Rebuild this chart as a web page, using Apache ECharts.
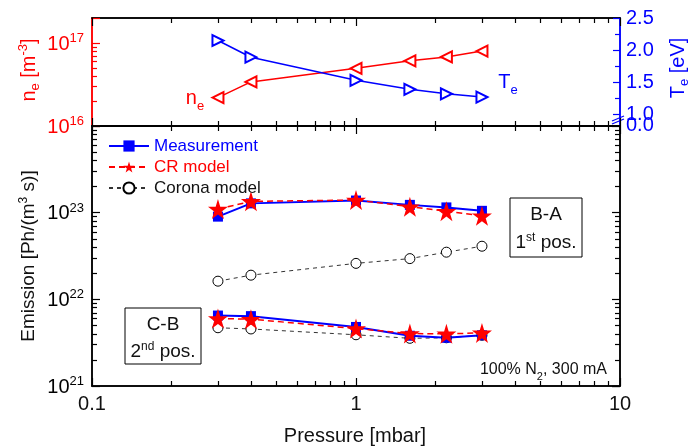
<!doctype html>
<html lang="en" style="height: 100%">
<head>
  <meta charset="utf-8" />
  <script type="text/javascript" src="https://fastly.jsdelivr.net/npm/echarts@6/dist/echarts.min.js"></script>
</head>
<body style="height: 100%; margin: 0; background: #fff">
  <div id="main" style="width: 691px; height: 448px"></div>
  <script type="text/javascript">
    // pressure in mbar
    var pressure = [0.3, 0.4, 1.0, 1.6, 2.2, 3.0];
    // top panel: electron density and temperature
    var neVals = [2.2e16, 3.4e16, 4.95e16, 6.1e16, 6.8e16, 8.0e16];
    var teVals = [2.15, 1.89, 1.53, 1.39, 1.32, 1.27];
    // bottom panel: emission, B-A band (1st pos.)
    var measBA = [9.0e22, 1.28e23, 1.38e23, 1.23e23, 1.15e23, 1.05e23];
    var crBA = [1.1e23, 1.35e23, 1.4e23, 1.17e23, 1.04e23, 9.2e22];
    var coronaBA = [1.62e22, 1.9e22, 2.6e22, 2.95e22, 3.5e22, 4.1e22];
    // bottom panel: emission, C-B band (2nd pos.)
    var measCB = [6.5e21, 6.4e21, 4.8e21, 3.8e21, 3.6e21, 3.85e21];
    var crCB = [6.0e21, 5.9e21, 4.6e21, 4.03e21, 4.0e21, 4.1e21];
    var coronaCB = [4.7e21, 4.55e21, 3.9e21, 3.55e21, 3.6e21, 3.85e21];
    // tick labels
    var xTickLabels = ['0.1', '1', '10'];
    var teTicks = [1.0, 1.5, 2.0, 2.5];
    var teMinorTicks = [1.25, 1.75, 2.25];

    var RED = '#ff0000', BLUE = '#0000ff', INK = '#111';
    var FONT = 'Liberation Sans';
    var STAR = 'path://M50,0 L61,35 L98,35 L68,57 L79,91 L50,70 L21,91 L32,57 L2,35 L39,35 Z';

    function zip(xs, ys) {
      return xs.map(function (x, i) { return [x, ys[i]]; });
    }
    // minor tick positions (in decades) for the overlay axes
    function minorDecades(from, to) {
      var out = [];
      for (var n = from; n < to; n++) {
        for (var k = 2; k <= 9; k++) out.push(n + Math.log10(k));
      }
      return out;
    }
    var supRich = {
      s: { fontSize: 13, fontFamily: FONT, padding: [0, 0, 9, 0], verticalAlign: 'bottom' },
      b: { fontSize: 20, fontFamily: FONT, verticalAlign: 'bottom' }
    };

    function logX(g, pos, lab) {
      return {
        type: 'log', logBase: 10, gridIndex: g, position: pos, min: 0.1, max: 10,
        axisLine: { show: true, onZero: false, lineStyle: { color: '#000', width: 1.5 } },
        axisTick: { show: true, inside: true, length: 8, lineStyle: { color: '#000', width: 1.2 } },
        axisLabel: {
          show: lab, margin: 8, fontSize: 20, color: INK, fontFamily: FONT,
          formatter: function (v) { return xTickLabels[Math.round(Math.log10(v)) + 1]; }
        },
        splitLine: { show: false }
      };
    }
    // overlay axis that only carries the short minor ticks (lives in its own grid)
    function minorAxis(g, pos, min, max, ticks, color) {
      return {
        type: 'value', gridIndex: g, position: pos, min: min, max: max,
        axisLine: { show: true, onZero: false, lineStyle: { color: color, width: 1.5 } },
        axisTick: { show: true, inside: true, length: 5, customValues: ticks, lineStyle: { color: color, width: 1.2 } },
        axisLabel: { show: false },
        splitLine: { show: false }
      };
    }
    function logY(g, pos, min, max, color, lab, hideExp) {
      return {
        type: 'log', logBase: 10, gridIndex: g, position: pos, min: min, max: max,
        axisLine: { show: true, onZero: false, lineStyle: { color: color, width: 1.5 } },
        axisTick: { show: true, inside: true, length: 8, lineStyle: { color: color, width: 1.2 } },
        axisLabel: {
          show: lab, margin: 8, color: color, fontSize: 20, fontFamily: FONT,
          formatter: function (v) {
            var e = Math.log10(v);
            if (Math.abs(e - Math.round(e)) > 1e-6) return '';
            e = Math.round(e);
            if (e === hideExp) return '';
            return '{b|10}{s|' + e + '}';
          },
          rich: supRich
        },
        splitLine: { show: false }
      };
    }

    var xMinor = minorDecades(-1, 1);
    var neMinor = minorDecades(16, 17);
    var emMinor = minorDecades(21, 24);

    var topPanel = { left: 92, right: 71, top: 18, height: 108, outerBoundsMode: 'none' };
    var bottomPanel = { left: 92, right: 71, top: 126, height: 260, outerBoundsMode: 'none' };

    var chart = echarts.init(document.getElementById('main'));
    var option = {
      animation: false,
      backgroundColor: '#fff',
      textStyle: { fontFamily: FONT },
      // grids 2 and 3 sit exactly on top of 0 and 1 and only hold the minor ticks
      grid: [topPanel, bottomPanel, topPanel, bottomPanel],
      xAxis: [
        logX(0, 'bottom', false), logX(0, 'top', false),
        logX(1, 'bottom', true), logX(1, 'top', false),
        minorAxis(2, 'bottom', -1, 1, xMinor, '#000'), minorAxis(2, 'top', -1, 1, xMinor, '#000'),
        minorAxis(3, 'bottom', -1, 1, xMinor, '#000'), minorAxis(3, 'top', -1, 1, xMinor, '#000')
      ],
      yAxis: [
        logY(0, 'left', 1e16, 2e17, RED, true, null),
        {
          type: 'value', gridIndex: 0, position: 'right', min: 0.82, max: 2.5,
          axisLine: { show: true, onZero: false, lineStyle: { color: BLUE, width: 1.5 } },
          axisTick: { show: true, inside: true, length: 7, customValues: teTicks, lineStyle: { color: BLUE, width: 1.2 } },
          axisLabel: {
            margin: 6, color: BLUE, fontSize: 20, fontFamily: FONT,
            customValues: teTicks,
            formatter: function (v) { return v.toFixed(1); }
          },
          splitLine: { show: false }
        },
        logY(1, 'left', 1e21, 1e24, '#000', true, 24),
        logY(1, 'right', 1e21, 1e24, '#000', false, null),
        minorAxis(2, 'left', 16, Math.log10(2e17), neMinor, RED),
        minorAxis(2, 'right', 0.82, 2.5, teMinorTicks, BLUE),
        minorAxis(3, 'left', 21, 24, emMinor, '#000'),
        minorAxis(3, 'right', 21, 24, emMinor, '#000')
      ],
      legend: {
        orient: 'vertical', left: 103, top: 131, itemWidth: 40, itemHeight: 14, itemGap: 1,
        textStyle: { fontSize: 17, lineHeight: 20, fontFamily: FONT },
        data: [
          { name: 'Measurement', textStyle: { color: BLUE } },
          { name: 'CR model', textStyle: { color: RED } },
          { name: 'Corona model', textStyle: { color: INK } }
        ]
      },
      series: [
        {
          name: 'n_e', type: 'line', xAxisIndex: 0, yAxisIndex: 0, data: zip(pressure, neVals),
          symbol: 'emptyTriangle', symbolSize: 11, symbolRotate: 90,
          lineStyle: { color: RED, width: 1.5 }, itemStyle: { color: RED, borderWidth: 1.2 }
        },
        {
          name: 'T_e', type: 'line', xAxisIndex: 0, yAxisIndex: 1, data: zip(pressure, teVals),
          symbol: 'emptyTriangle', symbolSize: 11, symbolRotate: -90,
          lineStyle: { color: BLUE, width: 1.5 }, itemStyle: { color: BLUE, borderWidth: 1.2 }
        },
        {
          name: 'Corona model', type: 'line', xAxisIndex: 2, yAxisIndex: 2, data: zip(pressure, coronaBA),
          symbol: 'circle', symbolSize: 10,
          lineStyle: { color: '#333', width: 1, type: [4, 4] },
          itemStyle: { color: '#fff', borderColor: '#000', borderWidth: 1 }
        },
        {
          name: 'Corona model', type: 'line', xAxisIndex: 2, yAxisIndex: 2, data: zip(pressure, coronaCB),
          symbol: 'circle', symbolSize: 10,
          lineStyle: { color: '#333', width: 1, type: [4, 4] },
          itemStyle: { color: '#fff', borderColor: '#000', borderWidth: 1 }
        },
        {
          name: 'Measurement', type: 'line', xAxisIndex: 2, yAxisIndex: 2, data: zip(pressure, measBA),
          symbol: 'rect', symbolSize: 10,
          lineStyle: { color: BLUE, width: 2 }, itemStyle: { color: BLUE }
        },
        {
          name: 'Measurement', type: 'line', xAxisIndex: 2, yAxisIndex: 2, data: zip(pressure, measCB),
          symbol: 'rect', symbolSize: 10,
          lineStyle: { color: BLUE, width: 2 }, itemStyle: { color: BLUE }
        },
        {
          name: 'CR model', type: 'line', xAxisIndex: 2, yAxisIndex: 2, data: zip(pressure, crBA),
          symbol: STAR, symbolSize: 20,
          lineStyle: { color: RED, width: 1.5, type: [6, 4] }, itemStyle: { color: RED }
        },
        {
          name: 'CR model', type: 'line', xAxisIndex: 2, yAxisIndex: 2, data: zip(pressure, crCB),
          symbol: STAR, symbolSize: 20,
          lineStyle: { color: RED, width: 1.5, type: [6, 4] }, itemStyle: { color: RED }
        }
      ],
      graphic: [
        // axis titles
        {
          type: 'text', x: 28, y: 70, rotation: Math.PI / 2,
          style: {
            text: '{b|n}{d|e}{b| [m}{u|-3}{b|]}', fill: RED, align: 'center', verticalAlign: 'middle',
            rich: {
              b: { fontSize: 20, fontFamily: FONT, fill: RED, verticalAlign: 'bottom' },
              d: { fontSize: 13, fontFamily: FONT, fill: RED, verticalAlign: 'bottom', padding: [0, 0, -3, 0] },
              u: { fontSize: 13, fontFamily: FONT, fill: RED, verticalAlign: 'bottom', padding: [0, 0, 9, 0] }
            }
          }
        },
        {
          type: 'text', x: 678, y: 68, rotation: Math.PI / 2,
          style: {
            text: '{b|T}{d|e}{b| [eV]}', fill: BLUE, align: 'center', verticalAlign: 'middle',
            rich: {
              b: { fontSize: 20, fontFamily: FONT, fill: BLUE, verticalAlign: 'bottom' },
              d: { fontSize: 13, fontFamily: FONT, fill: BLUE, verticalAlign: 'bottom', padding: [0, 0, -3, 0] }
            }
          }
        },
        {
          type: 'text', x: 28, y: 256, rotation: Math.PI / 2,
          style: {
            text: '{b|Emission [Ph/(m}{u|3}{b| s)]}', fill: INK, align: 'center', verticalAlign: 'middle',
            rich: {
              b: { fontSize: 19, fontFamily: FONT, fill: INK, verticalAlign: 'bottom' },
              u: { fontSize: 12, fontFamily: FONT, fill: INK, verticalAlign: 'bottom', padding: [0, 0, 9, 0] }
            }
          }
        },
        {
          type: 'text', x: 355, y: 436,
          style: { text: 'Pressure [mbar]', font: '20px ' + FONT, fill: INK, align: 'center', verticalAlign: 'middle' }
        },
        // the broken part of the Te axis
        {
          type: 'text', x: 626, y: 125,
          style: { text: '0.0', font: '20px ' + FONT, fill: BLUE, align: 'left', verticalAlign: 'middle' }
        },
        {
          type: 'polyline', shape: { points: [[612, 121], [624, 116]] },
          style: { stroke: BLUE, lineWidth: 1.2, fill: null }
        },
        {
          type: 'polyline', shape: { points: [[612, 124], [624, 119]] },
          style: { stroke: BLUE, lineWidth: 1.2, fill: null }
        },
        // curve labels in the top panel
        {
          type: 'text', x: 195, y: 98,
          style: {
            text: '{b|n}{d|e}', align: 'center', verticalAlign: 'middle',
            rich: {
              b: { fontSize: 20, fontFamily: FONT, fill: RED, verticalAlign: 'bottom' },
              d: { fontSize: 13, fontFamily: FONT, fill: RED, verticalAlign: 'bottom', padding: [0, 0, -5, 0] }
            }
          }
        },
        {
          type: 'text', x: 508, y: 82,
          style: {
            text: '{b|T}{d|e}', align: 'center', verticalAlign: 'middle',
            rich: {
              b: { fontSize: 20, fontFamily: FONT, fill: BLUE, verticalAlign: 'bottom' },
              d: { fontSize: 13, fontFamily: FONT, fill: BLUE, verticalAlign: 'bottom', padding: [0, 0, -5, 0] }
            }
          }
        },
        // band boxes
        {
          type: 'rect', shape: { x: 510, y: 198, width: 72, height: 59 },
          style: { fill: '#fff', stroke: '#000', lineWidth: 1 }
        },
        {
          type: 'text', x: 546, y: 215,
          style: { text: 'B-A', font: '19px ' + FONT, fill: INK, align: 'center', verticalAlign: 'middle' }
        },
        {
          type: 'text', x: 546, y: 242,
          style: {
            text: '{b|1}{u|st}{b| pos.}', align: 'center', verticalAlign: 'middle',
            rich: {
              b: { fontSize: 19, fontFamily: FONT, fill: INK, verticalAlign: 'bottom' },
              u: { fontSize: 12, fontFamily: FONT, fill: INK, verticalAlign: 'bottom', padding: [0, 0, 9, 0] }
            }
          }
        },
        {
          type: 'rect', shape: { x: 125, y: 308, width: 76, height: 56 },
          style: { fill: '#fff', stroke: '#000', lineWidth: 1 }
        },
        {
          type: 'text', x: 163, y: 325,
          style: { text: 'C-B', font: '19px ' + FONT, fill: INK, align: 'center', verticalAlign: 'middle' }
        },
        {
          type: 'text', x: 163, y: 351,
          style: {
            text: '{b|2}{u|nd}{b| pos.}', align: 'center', verticalAlign: 'middle',
            rich: {
              b: { fontSize: 19, fontFamily: FONT, fill: INK, verticalAlign: 'bottom' },
              u: { fontSize: 12, fontFamily: FONT, fill: INK, verticalAlign: 'bottom', padding: [0, 0, 9, 0] }
            }
          }
        },
        {
          type: 'text', x: 607, y: 370,
          style: {
            text: '{b|100% N}{d|2}{b|, 300 mA}', align: 'right', verticalAlign: 'middle',
            rich: {
              b: { fontSize: 16, fontFamily: FONT, fill: INK, verticalAlign: 'bottom' },
              d: { fontSize: 11, fontFamily: FONT, fill: INK, verticalAlign: 'bottom', padding: [0, 0, -4, 0] }
            }
          }
        }
      ]
    };
    chart.setOption(option);
  </script>
</body>
</html>
